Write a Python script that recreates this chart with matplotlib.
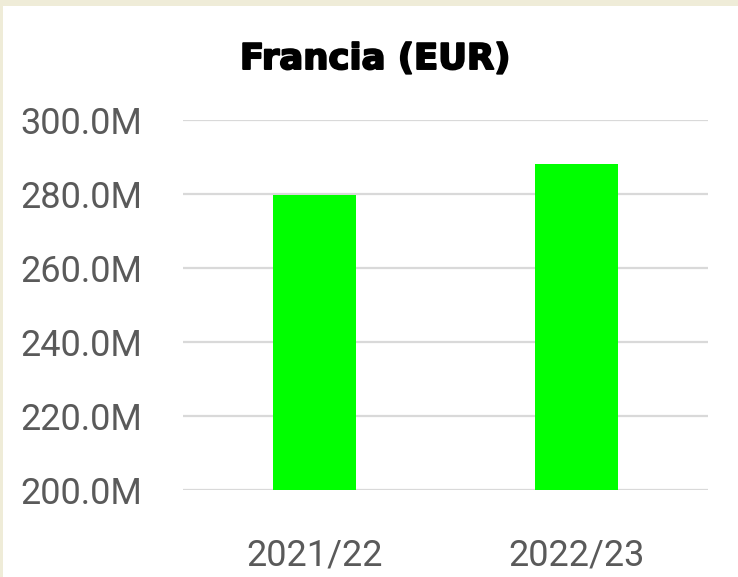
import matplotlib.pyplot as plt
import matplotlib.patheffects as pe
from matplotlib.patches import Rectangle
from matplotlib.ticker import FuncFormatter

seasons = ["2021/22", "2022/23"]
revenue = [279.7e6, 288.1e6]
y_ticks = [200e6, 220e6, 240e6, 260e6, 280e6, 300e6]

W, H = 738, 577
fig = plt.figure(figsize=(W / 100, H / 100), dpi=100)
fig.patch.set_facecolor("white")

# beige page frame visible on top and left edges
beige = "#EFECD8"
fig.patches.append(Rectangle((0, 1 - 6 / H), 1, 6 / H, transform=fig.transFigure,
                             facecolor=beige, edgecolor="none", zorder=0))
fig.patches.append(Rectangle((0, 0), 3 / W, 1, transform=fig.transFigure,
                             facecolor=beige, edgecolor="none", zorder=0))

ax = fig.add_axes([183 / W, (H - 490) / H, (708 - 183) / W, (490 - 120) / H])
ax.bar(range(len(seasons)), revenue, width=0.316, color="#00FF00", zorder=3)

ax.set_ylim(200e6, 300e6)
ax.set_xlim(-0.5, 1.5)
ax.set_yticks(y_ticks)
ax.yaxis.set_major_formatter(FuncFormatter(lambda v, p: f"{v / 1e6:.1f}M"))
ax.set_xticks(range(len(seasons)))
ax.set_xticklabels(seasons)

ax.grid(axis="y", color="#D9D9D9", linewidth=1.6, zorder=0)
for s in ax.spines.values():
    s.set_visible(False)
ax.tick_params(length=0, colors="#5A5A5A", labelsize=26)
ax.tick_params(axis="y", pad=29)
ax.tick_params(axis="x", pad=34)
for lab in ax.get_xticklabels() + ax.get_yticklabels():
    lab.set_family("Roboto")

# heavy title (thickened bold to look like a black-weight face)
fig.text(375 / W, 1 - 59 / H, "Francia (EUR)", ha="center", va="center",
         fontsize=25.5, fontweight="bold", family="DejaVu Sans", color="black",
         path_effects=[pe.Stroke(linewidth=1.4, foreground="black"), pe.Normal()])

fig.savefig("out.png", dpi=100)
